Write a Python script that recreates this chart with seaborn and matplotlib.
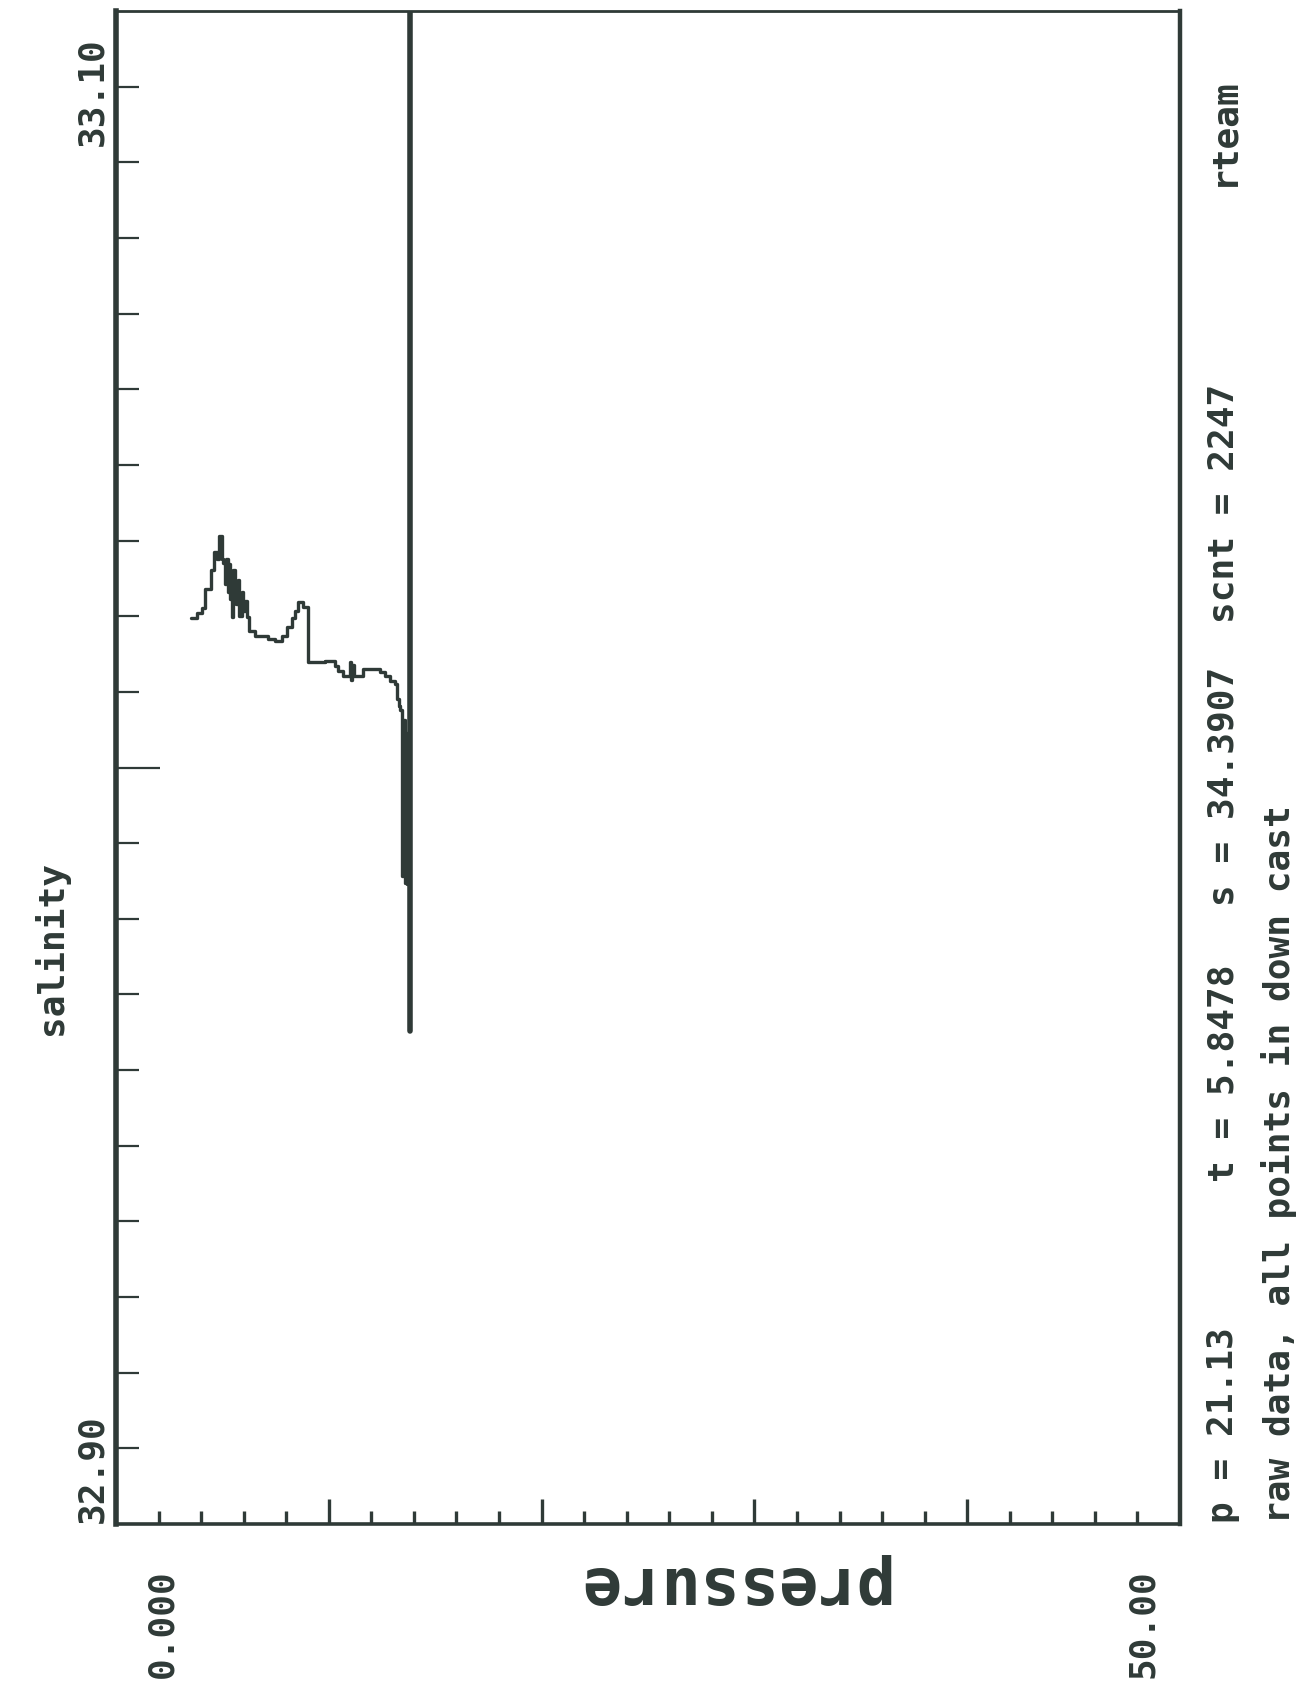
import numpy as np
import pandas as pd
import matplotlib
matplotlib.use("Agg")
import matplotlib.pyplot as plt
import seaborn as sns

# ---------------- data ----------------
pressure = [3.52, 3.81, 4.04, 4.18, 4.46, 4.61, 4.75, 4.84, 4.96, 5.03,
            5.10, 5.17, 5.24, 5.31, 5.38, 5.45, 5.52, 5.59, 5.66, 5.73,
            5.80, 5.92, 5.99, 6.06, 6.14, 6.25, 6.53, 7.14, 7.47, 7.80,
            8.04, 8.27, 8.41, 8.55, 8.79, 9.04, 9.82, 10.29, 10.43, 10.67,
            11.00, 11.05, 11.10, 11.18, 11.61, 12.41, 12.64, 12.88, 13.11, 13.20,
            13.30, 13.35, 13.42, 13.50, 13.56, 13.62, 13.68, 13.72]
salinity = [33.0219, 33.0227, 33.0235, 33.0262, 33.0290, 33.0317, 33.0306, 33.0340, 33.0306, 33.0300,
            33.0270, 33.0306, 33.0258, 33.0299, 33.0248, 33.0221, 33.0290, 33.0270, 33.0240, 33.0275,
            33.0223, 33.0258, 33.0230, 33.0245, 33.0221, 33.0200, 33.0193, 33.0189, 33.0186, 33.0193,
            33.0206, 33.0220, 33.0230, 33.0243, 33.0236, 33.0155, 33.0157, 33.0149, 33.0142, 33.0134,
            33.0155, 33.0128, 33.0150, 33.0134, 33.0145, 33.0140, 33.0134, 33.0127, 33.0123, 33.0100,
            33.0090, 33.0085, 32.9840, 33.0070, 32.9830, 33.0050, 32.9829, 32.9829]

# samples held at one pressure (vertical trace)
hold_pressure = [13.82, 13.82]
hold_salinity = [33.13, 32.9613]

sal_ticks = list(np.round(np.linspace(32.90, 33.10, 19), 5))
sal_major = [33.00]
pres_major = [10, 20, 30, 40]
pres_minor = [2, 4, 6, 8, 12, 14, 16, 18, 22, 24, 26, 28, 32, 34, 36, 38, 42, 44, 46, 48]

sal_labels = ["32.90", "33.10"]
pres_labels = ["0.000", "50.00"]
status_line = ["p = 21.13", "t = 5.8478", "s = 34.3907", "scnt = 2247", "rteam"]
note_line = "raw data, all points in down cast"

# ---------------- style ----------------
sns.set_style("white")
plt.rcParams['font.family'] = ['DejaVu Sans Mono', 'DejaVu Sans']
INK = '#2f3a37'

W, H = 1303, 1685
fig = plt.figure(figsize=(W / 100, H / 100), dpi=100)
fig.patch.set_facecolor('white')

L, R, T, B = 116, 1180, 11, 1524
ax = fig.add_axes([L / W, 1 - B / H, (R - L) / W, (B - T) / H])
ax.set_facecolor('white')

prof = pd.DataFrame({'pressure': pressure, 'salinity': salinity})
hold = pd.DataFrame({'pressure': hold_pressure, 'salinity': hold_salinity})

sns.lineplot(data=prof, x='pressure', y='salinity', ax=ax, estimator=None, sort=False,
             color=INK, linewidth=2.4, drawstyle='steps-post')
sns.lineplot(data=hold, x='pressure', y='salinity', ax=ax, estimator=None, sort=False,
             color=INK, linewidth=4.0)

step = 0.2 / 18
ax.set_xlim(0, 50)
ax.set_ylim(32.90 - step, 33.10 + step)

ax.set_xticks(pres_major)
ax.set_xticks(pres_minor, minor=True)
ax.set_yticks(sal_major)
ax.set_yticks([v for v in sal_ticks if abs(v - 33.0) > 1e-6], minor=True)
ax.tick_params(axis='x', which='major', direction='in', length=18, width=2.4, color=INK,
               labelbottom=False, bottom=True)
ax.tick_params(axis='x', which='minor', direction='in', length=9.5, width=2.4, color=INK,
               bottom=True)
ax.tick_params(axis='y', which='major', direction='in', length=32, width=1.6, color=INK,
               labelleft=False, left=True)
ax.tick_params(axis='y', which='minor', direction='in', length=16.5, width=1.6, color=INK,
               left=True)
ax.set_xlabel('')
ax.set_ylabel('')

for side, lw in [('left', 4.0), ('right', 3.2), ('top', 2.0), ('bottom', 2.6)]:
    ax.spines[side].set_visible(True)
    ax.spines[side].set_color(INK)
    ax.spines[side].set_linewidth(lw)


def ptext(s, x, y, size=26, rot=90, **kw):
    fig.text(x / W, 1 - y / H, s, rotation=rot, rotation_mode='anchor',
             ha='left', va='baseline', fontsize=size, color=INK,
             fontweight='bold', **kw)


# salinity end labels and axis name
ptext(sal_labels[1], 102, 146)
ptext(sal_labels[0], 102, 1523)
ptext("salinity", 62, 1035)

# pressure end labels
ptext(pres_labels[0], 172, 1678)
ptext(pres_labels[1], 1153, 1678)

# pressure axis name, printed upside down
fig.text(730 / W, 1 - 1585 / H, "pressure", rotation=180, ha='center', va='center',
         fontsize=47, color=INK, fontweight='bold')

# status line along the right edge
starts = [1523, 1182, 906, 623, 186]
for s, y0 in zip(status_line, starts):
    ptext(s, 1233, y0)
ptext(note_line, 1290, 1523)

fig.savefig('out.png', dpi=100, facecolor='white')
